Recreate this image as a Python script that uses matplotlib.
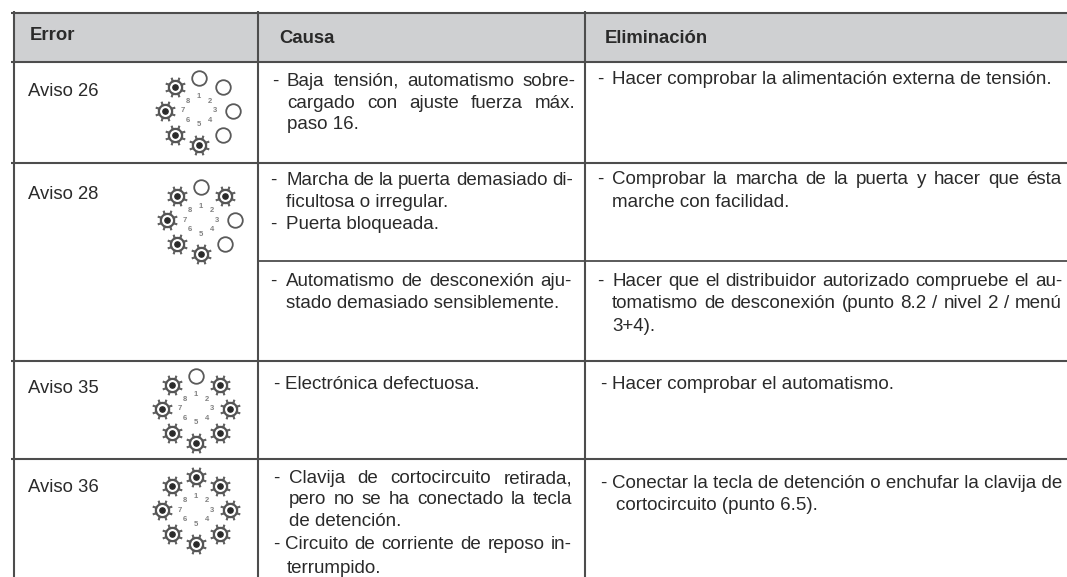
#!/usr/bin/env python3
# -*- coding: utf-8 -*-
import numpy as np
import matplotlib
matplotlib.use('Agg')
import matplotlib.pyplot as plt

headers = ['Error', 'Causa', 'Eliminación']
avisos = ['Aviso 26', 'Aviso 28', 'Aviso 35', 'Aviso 36']
led_numbers = ['1', '2', '3', '4', '5', '6', '7', '8']
# 1 = LED flashing (sun symbol), 0 = LED off, clockwise starting from number 1
led_26 = [0, 0, 0, 0, 1, 1, 1, 1]
led_28 = [0, 1, 0, 0, 1, 1, 1, 1]
led_35 = [0, 1, 1, 1, 1, 1, 1, 1]
led_36 = [1, 1, 1, 1, 1, 1, 1, 1]

causa_lines = ['Baja tensión, automatismo sobre-', 'cargado con ajuste fuerza máx.', 'paso 16.',
               'Marcha de la puerta demasiado di-', 'ficultosa o irregular.', 'Puerta bloqueada.',
               'Automatismo de desconexión aju-', 'stado demasiado sensiblemente.',
               'Electrónica defectuosa.',
               'Clavija de cortocircuito retirada,', 'pero no se ha conectado la tecla', 'de detención.',
               'Circuito de corriente de reposo in-', 'terrumpido.']
elim_lines = ['Hacer comprobar la alimentación externa de tensión.',
              'Comprobar la marcha de la puerta y hacer que ésta', 'marche con facilidad.',
              'Hacer que el distribuidor autorizado compruebe el au-',
              'tomatismo de desconexión (punto 8.2 / nivel 2 / menú', '3+4).',
              'Hacer comprobar el automatismo.',
              'Conectar la tecla de detención o enchufar la clavija de', 'cortocircuito (punto 6.5).']

# layout, in pixels of the picture
causa_x = [287, 287, 287, 286, 286, 286, 286, 286, 285, 289, 289, 289, 285, 287]
causa_y = [86, 108, 129, 185, 207, 229, 286, 308, 389, 483, 504, 526, 549, 573]
causa_right = [576, 576, None, 573, None, None, 572, None, None, 572, 572, None, 572, None]
causa_dash = [(272, 86), (270, 185), (270, 229), (270, 286), (273, 389), (273, 483), (273, 549)]
elim_x = [612, 612, 612, 612, 612, 612, 612, 612, 616]
elim_y = [84, 184, 207, 286, 308, 331, 389, 488, 510]
elim_right = [None, 1062, None, 1062, 1062, None, None, None, None]
elim_dash = [(597, 84), (597, 184), (597, 286), (600, 389), (600, 488)]
aviso_y = [96, 199, 393, 492]
ring_x = [199, 201, 196, 196]
ring_y = [111, 220, 409, 510]

TEXT = '#2a2a2a'
LINE = '#4d4d4d'
FS = 13.5

plt.rcParams['font.family'] = ['Liberation Sans', 'DejaVu Sans']
fig = plt.figure(figsize=(10.67, 5.77), dpi=100)
ax = fig.add_axes([0, 0, 1, 1])
ax.set_xlim(0, 1067)
ax.set_ylim(577, 0)
ax.axis('off')
renderer = fig.canvas.get_renderer()


def put(x, y, s, right=None):
    if right is None:
        ax.text(x, y, s, fontsize=FS, color=TEXT, va='baseline')
        return
    # justified line: the gaps between words are stretched up to the right margin
    words = s.split(' ')
    items = [ax.text(x, y, w, fontsize=FS, color=TEXT, va='baseline') for w in words]
    widths = [t.get_window_extent(renderer).width for t in items]
    gap = (right - x - sum(widths)) / (len(words) - 1)
    pos = x
    for t, w in zip(items, widths):
        t.set_x(pos)
        pos += w + gap


# header band and table lines
ax.fill_between([14, 1067], 13, 62, color='#cfd0d2', lw=0, zorder=0)
for y in [13, 62, 163, 361, 459]:
    ax.plot([11, 1067], [y, y], color=LINE, lw=1.5, solid_capstyle='butt')
ax.plot([258, 1067], [261, 261], color=LINE, lw=1.3, solid_capstyle='butt')
for x in [14, 258, 585]:
    ax.plot([x, x], [11, 577], color=LINE, lw=1.5, solid_capstyle='butt')

for x, y, s in zip([30, 279, 605], [40, 43, 43], headers):
    ax.text(x, y, s, fontsize=13.3, color=TEXT, fontweight='bold', va='baseline')
for y, s in zip(aviso_y, avisos):
    ax.text(28, y, s, fontsize=13.3, color=TEXT, va='baseline')

for x, y, s, r in zip(causa_x, causa_y, causa_lines, causa_right):
    put(x, y, s, r)
for x, y, s, r in zip(elim_x, elim_y, elim_lines, elim_right):
    put(x, y, s, r)
for x, y in causa_dash + elim_dash:
    ax.text(x, y, '-', fontsize=FS, color=TEXT, va='baseline')

# LED rings
angles = np.deg2rad(np.arange(8) * 45)
for cx, cy, states in zip(ring_x, ring_y, [led_26, led_28, led_35, led_36]):
    for a, st, num in zip(angles, states, led_numbers):
        x = cx + 34 * np.sin(a)
        y = cy - 33.5 * np.cos(a)
        if st:
            ax.plot(x, y, marker=(8, 2, 22.5), ms=15, mew=1.3, color='#666666', ls='none')
            ax.plot(x, y, marker='o', ms=9.5, mfc='white', mec='#555555', mew=1.6, ls='none')
            ax.plot(x, y, marker='o', ms=3.8, color='#2a2a2a', ls='none')
        else:
            ax.plot(x, y, marker='o', ms=10.5, mfc='white', mec='#5a5a5a', mew=1.3, ls='none')
        ax.text(cx + 16 * np.sin(a), cy - 14 * np.cos(a), num, fontsize=5.5, color='#808080',
                ha='center', va='center', fontweight='bold')

fig.savefig('out.png', dpi=100)
